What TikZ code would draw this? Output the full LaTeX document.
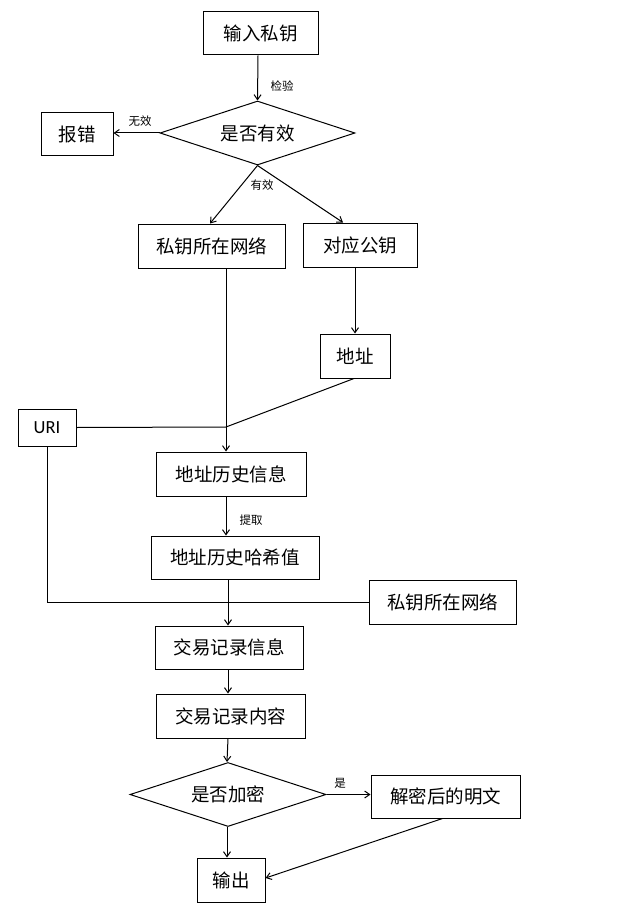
\documentclass[tikz,border=0pt]{standalone}
\usepackage{fontspec}
\newfontfamily\cjk{Noto Sans CJK SC}
\newfontfamily\carl{Carlito}
\usetikzlibrary{shapes.geometric,arrows.meta}
\begin{document}
\begin{tikzpicture}[x=1pt,y=-1pt,
  box/.style={draw,line width=1pt,inner sep=0pt,font=\cjk\fontsize{18.5}{18.5}\selectfont},
  dia/.style={draw,line width=1pt,diamond,aspect=3,inner sep=0pt,font=\cjk\fontsize{18.5}{18.5}\selectfont},
  lab/.style={font=\cjk\fontsize{11.5}{11.5}\selectfont,inner sep=0pt},
  arr/.style={line width=1pt,-{Straight Barb[length=5pt,width=7pt]}},
  ln/.style={line width=1pt}]
\useasboundingbox (0,0) rectangle (630,920);
\node[box,minimum width=115pt,minimum height=43pt] (b1) at (260.5,33.5) {输入私钥};
\node[dia,minimum width=195pt,minimum height=64pt] (d1) at (257.5,133) {是否有效};
\node[box,minimum width=72pt,minimum height=43pt] (b2) at (77,134.5) {报错};
\node[box,minimum width=147pt,minimum height=44pt] (b3) at (211.5,246) {私钥所在网络};
\node[box,minimum width=114pt,minimum height=44pt] (b4) at (360,245) {对应公钥};
\node[box,minimum width=70pt,minimum height=44pt] (b5) at (355,356) {地址};
\node[box,minimum width=58pt,minimum height=37pt,font=\carl\fontsize{18.5}{18.5}\selectfont] (uri) at (47,427.5) {URI};
\node[box,minimum width=150pt,minimum height=44pt] (b6) at (231,474) {地址历史信息};
\node[box,minimum width=168pt,minimum height=43pt] (b7) at (235,557.5) {地址历史哈希值};
\node[box,minimum width=147pt,minimum height=44pt] (b8) at (442.5,602) {私钥所在网络};
\node[box,minimum width=148pt,minimum height=43pt] (b9) at (229,647.5) {交易记录信息};
\node[box,minimum width=149pt,minimum height=44pt] (b10) at (230.5,716) {交易记录内容};
\node[dia,minimum width=196pt,minimum height=64pt] (d2) at (228,794.5) {是否加密};
\node[box,minimum width=149pt,minimum height=43pt] (b11) at (445.5,796.5) {解密后的明文};
\node[box,minimum width=68pt,minimum height=44pt] (b12) at (231,880) {输出};
\coordinate (j) at (226,427);
\coordinate (k) at (47,602);
% labels
\node[lab] (l1) at (282,86) {检验};
\node[lab] (l2) at (140,121) {无效};
\node[lab] (l3) at (262,185) {有效};
\node[lab] (l4) at (251,520) {提取};
\node[lab] (l5) at (340,783) {是};
% connectors
\draw[arr] ([xshift=-2.5pt]b1.south) -- (d1.north);
\draw[arr] (d1.west) -- (b2.east |- d1.west);
\draw[arr] (d1.south) -- ([xshift=-1.5pt]b3.north);
\draw[arr] (d1.south) -- ([xshift=-17pt]b4.north);
\draw[arr] ([xshift=-5pt]b4.south) -- (b5.north);
\draw[ln] (b3.south -| j) -- (j);
\draw[ln] ([xshift=-1pt]b5.south) -- (j);
\draw[ln] (uri.east) -- (j);
\draw[arr] (j) -- (b6.north -| j);
\draw[arr] (b6.south -| j) -- (b7.north -| j);
\draw[ln] (uri.south) -- (k) -- (b8.west);
\draw[arr] ([xshift=-7pt]b7.south) -- ([xshift=-1pt]b9.north);
\draw[arr] ([xshift=-1pt]b9.south) -- ([xshift=-2.5pt]b10.north);
\draw[arr] ([xshift=-2.5pt]b10.south) -- ([xshift=-1pt]d2.north);
\draw[arr] (d2.east) -- (b11.west |- d2.east);
\draw[arr] ([xshift=-1pt]d2.south) -- ([xshift=-4pt]b12.north);
\draw[arr] ([xshift=-3pt]b11.south) -- ([yshift=2pt]b12.east);
\end{tikzpicture}
\end{document}
